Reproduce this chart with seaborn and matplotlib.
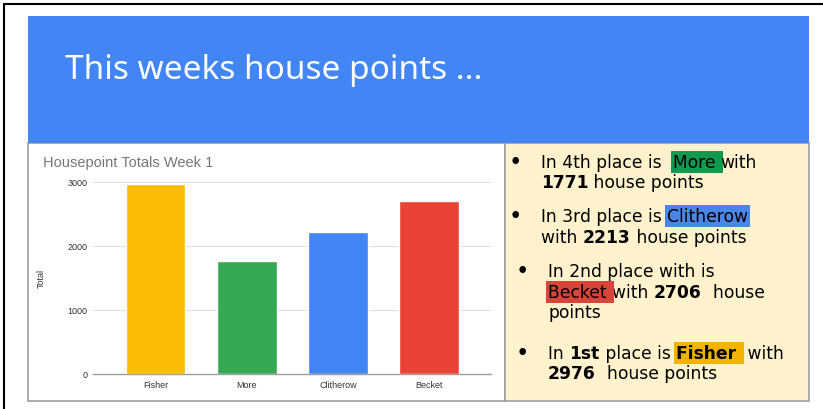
import matplotlib
matplotlib.use('Agg')
from matplotlib import pyplot as plt
from matplotlib import ticker
from matplotlib.patches import Rectangle
from matplotlib.lines import Line2D
from matplotlib.text import Annotation
import pandas as pd
import seaborn as sns

# data
houses = ['Fisher', 'More', 'Clitherow', 'Becket']
totals = [2976, 1771, 2213, 2706]
house_colours = ['#FBBC04', '#34A853', '#4285F4', '#EA4335']
highlight_colours = ['#F2B400', '#12994F', '#4A86E8', '#D9443A']
y_ticks = [0, 1000, 2000, 3000]

df = pd.DataFrame({'House': houses, 'Total': totals})
hl = dict(zip(houses, highlight_colours))
pts = dict(zip(houses, totals))

sns.set_style('white')
plt.rcParams['font.family'] = ['Liberation Sans', 'DejaVu Sans']

W, H = 823, 410
fig = plt.figure(figsize=(W / 100, H / 100), dpi=100)


def rect(x0, y0, x1, y1, **kw):
    fig.patches.append(Rectangle((x0 / W, 1 - y1 / H), (x1 - x0) / W, (y1 - y0) / H,
                                 transform=fig.transFigure, **kw))


def line(xs, ys, **kw):
    fig.lines.append(Line2D([x / W for x in xs], [1 - y / H for y in ys],
                            transform=fig.transFigure, **kw))


# slide pieces
rect(28, 144, 505, 402, facecolor='white', edgecolor='#9e9e9e', lw=1.2, zorder=0)
rect(505, 144, 809, 402, facecolor='#FFF2CC', edgecolor='#9e9e9e', lw=1.2, zorder=0)
rect(28, 17, 809, 144, facecolor='#4285F4', edgecolor='none', zorder=1)
line([4, 4], [5, 410], color='black', lw=1.5)
line([4, 823], [5, 5], color='black', lw=1.5)

fig.text(65 / W, 1 - 71 / H, 'This weeks house points ...', color='white', fontsize=24,
         family=['Noto Sans', 'DejaVu Sans'], va='center', ha='left', zorder=3)

# chart
ax = fig.add_axes([93 / W, 1 - 375 / H, (491 - 93) / W, (375 - 183) / H], zorder=2)
ax.set_facecolor('none')
sns.barplot(x='House', y='Total', data=df, hue='House', palette=house_colours,
            width=0.65, saturation=1, legend=False, ax=ax)
ax.set(xlim=(-0.69, 3.68), ylim=(0, 3000))
ax.yaxis.set_major_locator(ticker.FixedLocator(y_ticks))
ax.grid(True, axis='y', color='#e0e0e0', lw=0.8)
ax.set_axisbelow(True)
for s in ['top', 'right', 'left']:
    ax.spines[s].set_visible(False)
ax.spines['bottom'].set_color('#9e9e9e')
ax.spines['bottom'].set_linewidth(1.0)
ax.tick_params(axis='both', length=0, labelsize=6.5, colors='#333333', pad=4)
ax.set_xlabel('')
ax.set_ylabel('Total', fontsize=6.5, color='#333333')
ax.yaxis.set_label_coords(-0.118, 0.5)

fig.text(43 / W, 1 - 163 / H, 'Housepoint Totals Week 1', color='#757575', fontsize=10.5,
         va='center', ha='left', zorder=3)

# ranking text panel
fam = ['DejaVu Sans']
fs = 12.3


def chain(x, y, pieces):
    prev = None
    for txt, bold, bg in pieces:
        kw = dict(fontsize=fs, family=fam, color='black',
                  fontweight='bold' if bold else 'normal', zorder=5)
        if bg is not None:
            kw['bbox'] = dict(boxstyle='square,pad=0.12', fc=bg, ec='none')
        if prev is None:
            prev = fig.text(x / W, 1 - y / H, txt, ha='left', va='baseline', **kw)
        else:
            prev = fig.add_artist(Annotation(
                txt, xy=(1, 0), xycoords=prev, xytext=(0, 0), textcoords='offset points',
                ha='left', va='bottom', annotation_clip=False, **kw))


def bullet(x, y):
    fig.text(x / W, 1 - y / H, '\u2022', fontsize=fs + 4, family=fam, ha='center',
             va='baseline', color='black', zorder=5)


bullet(515, 169)
chain(541, 168, [('In 4th place is  ', False, None), ('More ', False, hl['More']),
                 ('with', False, None)])
chain(541, 188, [(str(pts['More']), True, None), (' house points', False, None)])

bullet(515, 223)
chain(541, 222, [('In 3rd place is ', False, None), ('Clitherow', False, hl['Clitherow'])])
chain(541, 243, [('with ', False, None), (str(pts['Clitherow']), True, None),
                 (' house points', False, None)])

bullet(522, 278)
chain(548, 277, [('In 2nd place with is', False, None)])
chain(548, 298, [('Becket ', False, hl['Becket']), ('with ', False, None),
                 (str(pts['Becket']), True, None), ('  house', False, None)])
chain(548, 318, [('points', False, None)])

bullet(522, 360)
chain(548, 359, [('In ', False, None), ('1st', True, None), (' place is ', False, None),
                 ('Fisher ', True, hl['Fisher']), (' with', False, None)])
chain(548, 379, [(str(pts['Fisher']), True, None), ('  house points', False, None)])

plt.savefig('out.png', dpi=100)
